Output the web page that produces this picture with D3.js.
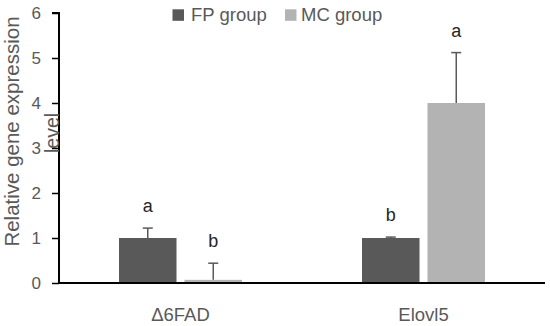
<!DOCTYPE html>
<html><head><meta charset="utf-8">
<script src="https://cdn.jsdelivr.net/npm/d3@7"></script>
<style>body{margin:0;background:#fff}text{font-family:"Liberation Sans",Arial,sans-serif}</style>
</head><body><svg id="c" width="550" height="326"></svg>
<script>
const categories = ["Δ6FAD", "Elovl5"];
const seriesNames = ["FP group", "MC group"];
const fpValues = [1.0, 1.0];
const mcValues = [0.07, 4.0];
const fpErrors = [0.22, 0.02];
const mcErrors = [0.37, 1.12];
const fpLetters = ["a", "b"];
const mcLetters = ["b", "a"];
const yTicks = [0, 1, 2, 3, 4, 5, 6];
const colors = ["#595959", "#b3b3b3"];

const svg = d3.select("#c");
const x0 = d3.scaleBand().domain(categories).range([59, 545]).paddingInner(0).paddingOuter(0);
const y = d3.scaleLinear().domain([0, 6]).range([283, 13]);
const groupW = 123;
const inner = d3.scaleBand().domain(seriesNames).range([0, groupW]).paddingInner(15/123).paddingOuter(0);

const series = [
  {name: seriesNames[0], vals: fpValues, errs: fpErrors, letters: fpLetters, color: colors[0]},
  {name: seriesNames[1], vals: mcValues, errs: mcErrors, letters: mcLetters, color: colors[1]}
];

// y axis
const yAxis = d3.axisLeft(y).tickValues(yTicks).tickSize(7).tickPadding(11).tickFormat(d3.format("d"));
const gy = svg.append("g").attr("transform", "translate(59,0)").call(yAxis);
gy.select(".domain").attr("stroke", "#000").attr("stroke-width", 2).attr("d", "M-7,13H0V283");
gy.selectAll(".tick line").attr("stroke", "#000").attr("stroke-width", 1.5);
gy.selectAll(".tick text").attr("fill", "#595959").style("font-size", "17px").attr("font-family", "Liberation Sans, Arial, sans-serif");

// bars
series.forEach(s => {
  categories.forEach((c, i) => {
    const gx = x0(c) + (x0.bandwidth() - groupW) / 2;
    const bx = gx + inner(s.name);
    const bw = inner.bandwidth();
    const cx = bx + bw / 2;
    svg.append("rect").attr("x", bx).attr("y", y(s.vals[i])).attr("width", bw)
      .attr("height", y(0) - y(s.vals[i])).attr("fill", s.color);
    const top = y(s.vals[i] + s.errs[i]);
    svg.append("line").attr("x1", cx).attr("x2", cx).attr("y1", y(s.vals[i])).attr("y2", top)
      .attr("stroke", "#595959").attr("stroke-width", 1.5);
    svg.append("line").attr("x1", cx - 5).attr("x2", cx + 5).attr("y1", top).attr("y2", top)
      .attr("stroke", "#595959").attr("stroke-width", 1.5);
    svg.append("text").attr("x", cx).attr("y", top - 16).attr("text-anchor", "middle")
      .attr("fill", "#262626").style("font-size", "18px").text(s.letters[i]);
  });
});

// x axis
const xAxis = d3.axisBottom(x0).tickSize(0).tickPadding(22);
const gxa = svg.append("g").attr("transform", "translate(0,283)").call(xAxis);
gxa.select(".domain").attr("stroke", "#000").attr("stroke-width", 2).attr("d", "M59,0H545");
gxa.selectAll(".tick text").attr("y", 38).attr("dy", 0).attr("fill", "#595959")
  .style("font-size", "18.5px").attr("font-family", "Liberation Sans, Arial, sans-serif");

// y title
svg.append("text").attr("transform", "translate(19,131.5) rotate(-90)").attr("text-anchor", "middle")
  .attr("fill", "#595959").style("font-size", "20.5px").text("Relative gene expression");
svg.append("text").attr("transform", "translate(58.5,133) rotate(-90)").attr("text-anchor", "middle")
  .attr("fill", "#595959").style("font-size", "19.5px").text("level");

// legend
const legendX = [172.5, 285];
const legendTextX = [191, 301];
series.forEach((s, i) => {
  svg.append("rect").attr("x", legendX[i]).attr("y", 9.3).attr("width", 11.5).attr("height", 11.5).attr("fill", s.color);
  svg.append("text").attr("x", legendTextX[i]).attr("y", 20.7).attr("fill", "#595959")
    .style("font-size", "18.5px").text(s.name);
});
</script></body></html>
